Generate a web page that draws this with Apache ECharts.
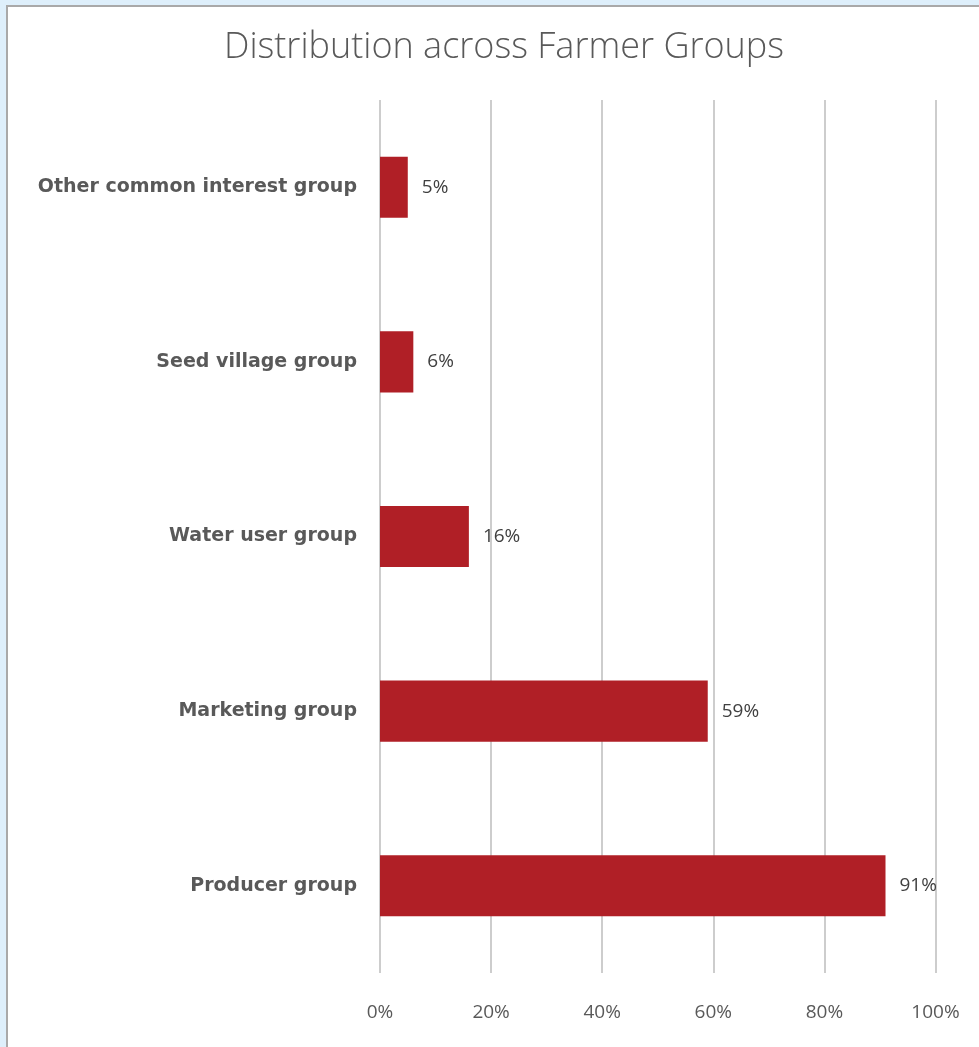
<!DOCTYPE html>
<html>
<head>
<meta charset="utf-8">
<script src="https://cdn.jsdelivr.net/npm/echarts@6/dist/echarts.min.js"></script>
<style>
  html, body { margin: 0; padding: 0; background: #deeffb; }
  #chart { width: 979px; height: 1047px; }
</style>
</head>
<body>
<div id="chart"></div>
<script>
// Farmer group membership shares, top to bottom
const categories = [
  'Other common interest group',
  'Seed village group',
  'Water user group',
  'Marketing group',
  'Producer group'
];
const shares = [5, 6, 16, 59, 91];
const tickValues = [0, 20, 40, 60, 80, 100];

const chart = echarts.init(document.getElementById('chart'), null, { renderer: 'canvas' });

chart.setOption({
  backgroundColor: 'transparent',
  animation: false,
  graphic: [{
    type: 'rect',
    z: -10,
    silent: true,
    shape: { x: 7, y: 6, width: 1000, height: 1100 },
    style: { fill: '#ffffff', stroke: '#a9a9a9', lineWidth: 2 }
  }],
  title: {
    text: 'Distribution across Farmer Groups',
    left: 499,
    textAlign: 'center',
    top: 25,
    textStyle: {
      fontFamily: 'Open Sans',
      fontWeight: 300,
      fontSize: 36,
      color: '#595959'
    }
  },
  grid: { left: 380, right: 43.5, top: 100, bottom: 74 },
  xAxis: {
    type: 'value',
    min: tickValues[0],
    max: tickValues[tickValues.length - 1],
    interval: 20,
    axisLine: { show: false },
    axisTick: { show: false },
    splitLine: { show: true, lineStyle: { color: '#bcbcbc', width: 1.5 } },
    axisLabel: {
      margin: 30,
      formatter: v => v + '%',
      fontFamily: 'Open Sans',
      fontSize: 19,
      color: '#595959'
    }
  },
  yAxis: {
    type: 'category',
    inverse: true,
    data: categories,
    axisLine: { show: false },
    axisTick: { show: false },
    axisLabel: {
      margin: 23,
      fontFamily: 'DejaVu Sans',
      fontWeight: 'bold',
      fontSize: 19,
      color: '#595959'
    }
  },
  series: [{
    type: 'bar',
    data: shares,
    barWidth: '35%',
    itemStyle: { color: '#b01f26' },
    label: {
      show: true,
      position: 'right',
      distance: 14,
      formatter: p => p.value + '%',
      fontFamily: 'Open Sans',
      fontSize: 19,
      color: '#404040'
    }
  }]
});
</script>
</body>
</html>
